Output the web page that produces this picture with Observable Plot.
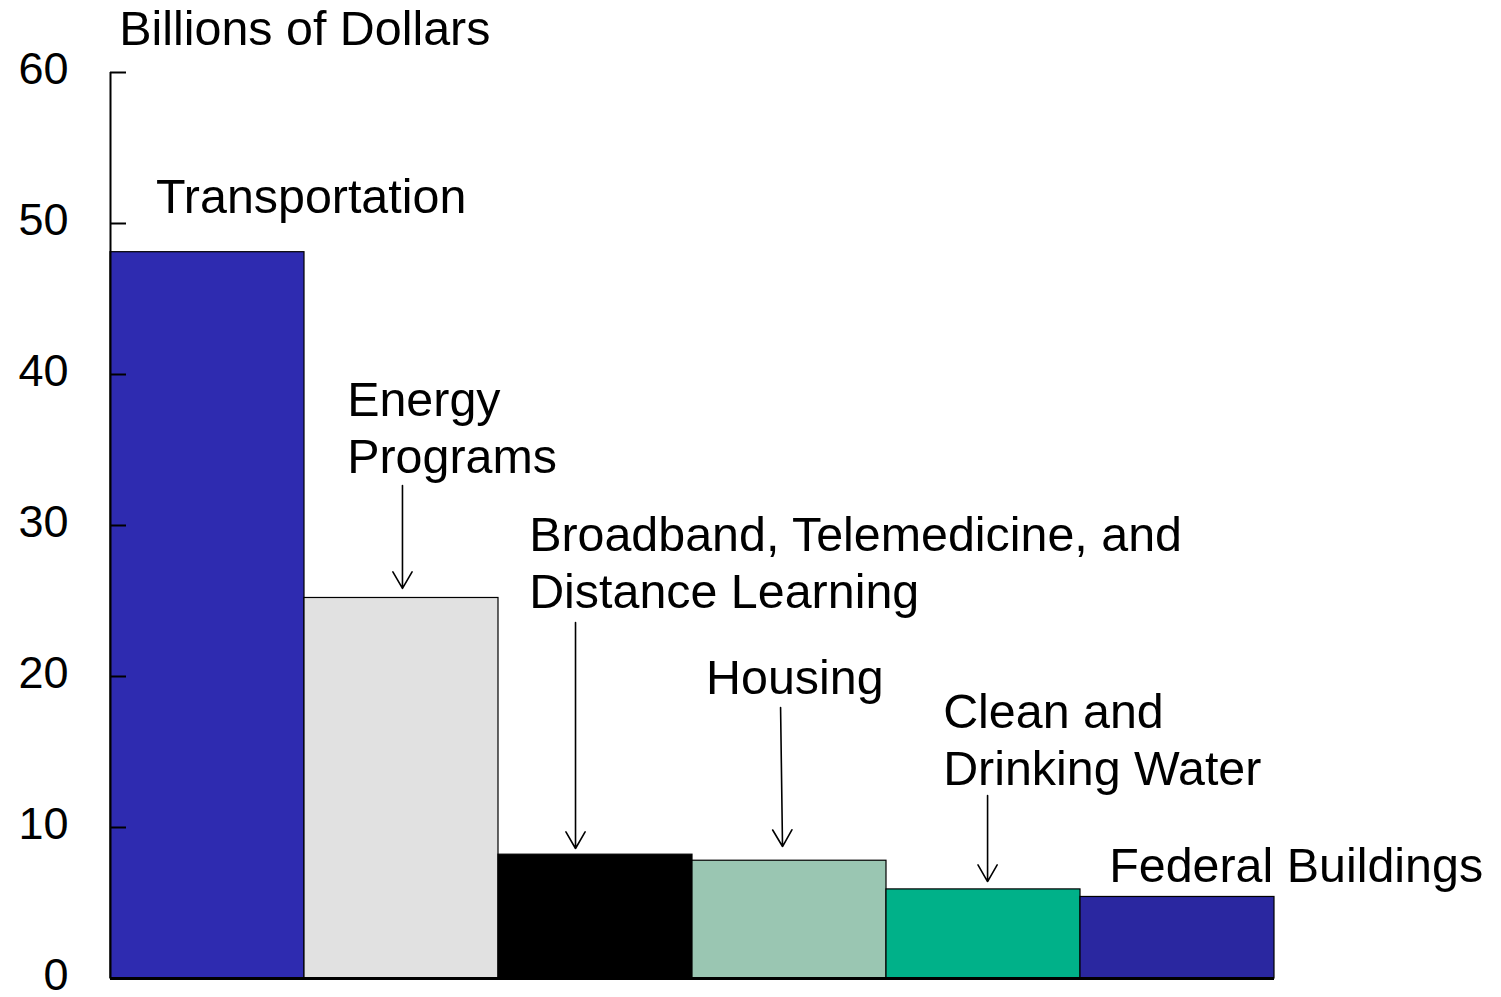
<!DOCTYPE html>
<html>
<head>
<meta charset="utf-8">
<script src="https://cdn.jsdelivr.net/npm/d3@7"></script>
<script src="https://cdn.jsdelivr.net/npm/@observablehq/plot@0.6"></script>
<style>
  html, body { margin: 0; padding: 0; background: #ffffff; }
  #chart svg { display: block; overflow: visible; }
</style>
</head>
<body>
<div id="chart"></div>
<script>
// Categories and values (billions of dollars)
const categories = ["Transportation", "Energy Programs", "Broadband, Telemedicine, and Distance Learning", "Housing", "Clean and Drinking Water", "Federal Buildings"];
const values = [48.1, 25.2, 8.2, 7.8, 5.9, 5.4];
const barColors = ["#2E2BB0", "#E1E1E1", "#000000", "#9AC6B2", "#00B189", "#2A27A0"];
const yTicks = [0, 10, 20, 30, 40, 50, 60];

// Annotation labels (x in bar-index units, y in billions)
const labelTexts = ["Billions of Dollars", "Transportation", "Energy\nPrograms", "Broadband, Telemedicine, and\nDistance Learning", "Housing", "Clean and\nDrinking Water", "Federal Buildings"];
const labelX = [0.045, 0.235, 1.22, 2.158, 3.07, 4.292, 5.148];
const labelY = [64.5, 53.35, 39.95, 31.0, 21.55, 19.3, 9.1];

// Arrows from labels down to bars
const arrowX1 = [1.505, 2.397, 3.454, 4.521];
const arrowX2 = [1.505, 2.397, 3.464, 4.521];
const arrowY1 = [32.65, 23.58, 17.95, 12.12];
const arrowY2 = [25.83, 8.61, 8.74, 6.42];

const bars = categories.map((c, i) => ({category: c, i, value: values[i], color: barColors[i]}));
const labels = labelTexts.map((t, i) => ({text: t, x: labelX[i], y: labelY[i]}));
const arrows = arrowX1.map((x, i) => ({x1: x, x2: arrowX2[i], y1: arrowY1[i], y2: arrowY2[i]}));

const chart = Plot.plot({
  width: 1501,
  height: 997,
  marginLeft: 110,
  marginRight: 227,
  marginTop: 72,
  marginBottom: 19,
  style: {fontFamily: "'Liberation Sans', Arial, sans-serif", background: "#ffffff", color: "#000"},
  x: {domain: [0, categories.length], axis: null},
  y: {domain: [0, 60], axis: null},
  marks: [
    Plot.rectY(bars, {x1: "i", x2: d => d.i + 1, y1: 0, y2: "value", fill: "color", stroke: "#000", strokeWidth: 1.2}),
    Plot.ruleX([0], {stroke: "#000", strokeWidth: 2}),
    Plot.ruleY([0], {stroke: "#000", strokeWidth: 3}),
    Plot.axisY({ticks: yTicks.filter(d => d > 0), tickSize: -16, tickFormat: () => "", stroke: "#000", strokeWidth: 2}),
    Plot.axisY({ticks: yTicks, tickSize: 0, tickPadding: 42, fontSize: 45, dy: -3, tickFormat: d => String(d)}),
    Plot.text(labels, {x: "x", y: "y", text: "text", textAnchor: "start", lineAnchor: "top", lineHeight: 1.18, fontSize: 48.4, fill: "#000"}),
    Plot.arrow(arrows, {x1: "x1", y1: "y1", x2: "x2", y2: "y2", stroke: "#000", strokeWidth: 1.6, headLength: 18, headAngle: 60})
  ]
});
document.getElementById("chart").appendChild(chart);
</script>
</body>
</html>
